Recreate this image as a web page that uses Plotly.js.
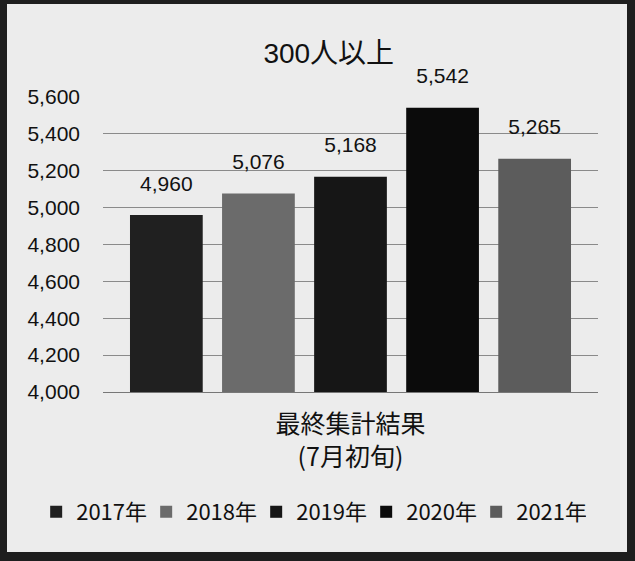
<!DOCTYPE html>
<html>
<head>
<meta charset="utf-8">
<script src="https://cdn.plot.ly/plotly-3.0.1.min.js"></script>
<style>
  html, body { margin: 0; padding: 0; }
  body { width: 635px; height: 561px; background: #1e1e1e; position: relative; overflow: hidden; }
  #chart { position: absolute; left: 7px; top: 4px; width: 620px; height: 548px; }
</style>
</head>
<body>
<div id="chart"></div>
<script>
const category = ["最終集計結果<br>(7月初旬)"];
const years = ["2017年", "2018年", "2019年", "2020年", "2021年"];
const values = [4960, 5076, 5168, 5542, 5265];
const colors = ["#202020", "#6b6b6b", "#161616", "#0b0b0b", "#5c5c5c"];

const fontFamily = "'Liberation Sans', Arial, 'Noto Sans CJK JP', sans-serif";

const traces = years.map((yr, i) => ({
  type: "bar",
  name: yr,
  x: category,
  y: [values[i]],
  marker: { color: colors[i] },
  text: [values[i].toLocaleString("en-US")],
  texttemplate: "%{text}<br><sup> </sup>",
  textposition: "outside",
  constraintext: "none",
  cliponaxis: false,
  textfont: { family: fontFamily, size: 21, color: "#111" },
  hoverinfo: "skip"
}));

const layout = {
  width: 620,
  height: 548,
  paper_bgcolor: "#ececec",
  plot_bgcolor: "#ececec",
  margin: { l: 96, r: 29, t: 93, b: 160, autoexpand: false },
  barmode: "group",
  bargap: 0.07,
  bargroupgap: 0.21,
  font: { family: fontFamily, color: "#111" },
  title: {
    text: "300人以上",
    font: { family: fontFamily, size: 28, color: "#111" },
    x: 0.519, xref: "container", xanchor: "center",
    y: 1 - 49 / 548, yref: "container", yanchor: "middle"
  },
  xaxis: {
    type: "category",
    showline: true,
    linecolor: "#777",
    linewidth: 1,
    ticks: "",
    ticklabelstandoff: 10,
    tickfont: { family: "'Noto Sans CJK JP', sans-serif", size: 25, color: "#111" },
    fixedrange: true
  },
  yaxis: {
    range: [4000, 5600],
    dtick: 200,
    tickformat: ",d",
    showgrid: true,
    gridcolor: "#8a8a8a",
    gridwidth: 1,
    zeroline: false,
    showline: false,
    ticks: "",
    ticklabelstandoff: 22,
    tickfont: { family: fontFamily, size: 21, color: "#111" },
    fixedrange: true
  },
  showlegend: true,
  legend: {
    orientation: "h",
    xref: "paper",
    x: -0.135,
    xanchor: "left",
    y: (388 - 508) / 295,
    yanchor: "middle",
    font: { family: "'Noto Sans CJK JP', sans-serif", size: 22, color: "#111" },
    bgcolor: "rgba(0,0,0,0)",
    itemwidth: 30,
    entrywidth: 65,
    entrywidthmode: "pixels",
    traceorder: "normal"
  }
};

Plotly.newPlot("chart", traces, layout, { displayModeBar: false, staticPlot: true });
</script>
</body>
</html>
